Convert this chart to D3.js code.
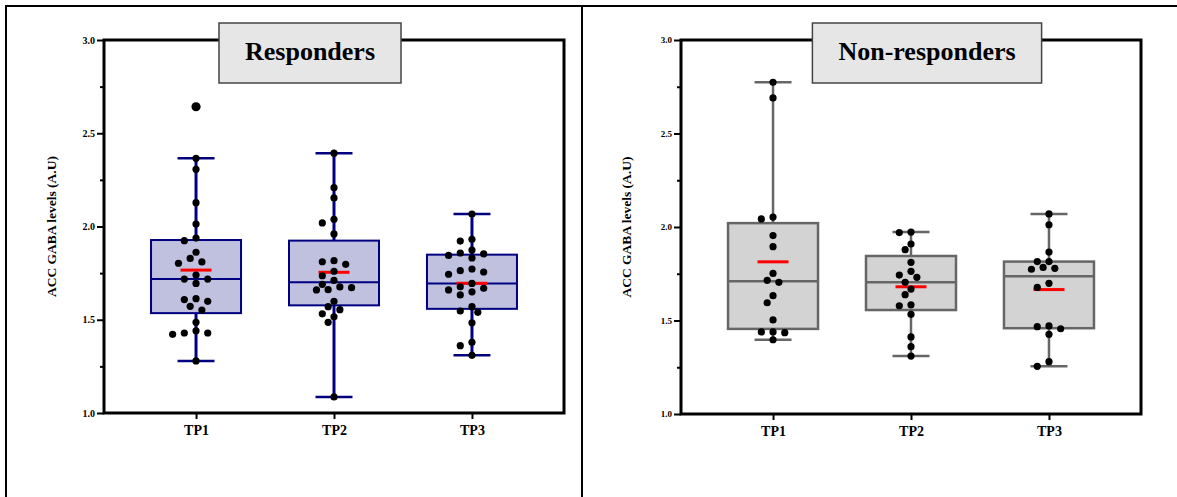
<!DOCTYPE html>
<html><head><meta charset="utf-8">
<script src="https://cdn.jsdelivr.net/npm/d3@7"></script>
<style>body{margin:0;background:#fff}svg{display:block}</style>
</head><body>
<svg id="chart" width="1177" height="497"></svg>
<script>
// ---------- data ----------
const categories = ["TP1", "TP2", "TP3"];
const panelTitles = ["Responders", "Non-responders"];
const yTicks = [1.0, 1.5, 2.0, 2.5, 3.0];
const yMinorTicks = [1.25, 1.75, 2.25, 2.75];
const yLabel = "ACC GABA levels (A.U)";

const respTP1 = [2.642, 2.366, 2.307, 2.128, 2.013, 1.938, 1.924, 1.862, 1.810, 1.803, 1.829, 1.740, 1.718,
                 1.718, 1.695, 1.613, 1.599, 1.608, 1.572, 1.552, 1.486, 1.441, 1.429, 1.429, 1.422, 1.279];
const respTP2 = [2.393, 2.208, 2.153, 2.039, 2.019, 1.960, 1.811, 1.797, 1.817, 1.760, 1.736, 1.711,
                 1.690, 1.660, 1.661, 1.672, 1.676, 1.599, 1.570, 1.554, 1.532, 1.516, 1.486, 1.086];
const respTP3 = [2.067, 1.931, 1.922, 1.858, 1.874, 1.853, 1.831, 1.845, 1.756, 1.744, 1.763, 1.772, 1.669,
                 1.677, 1.650, 1.695, 1.660, 1.633, 1.570, 1.540, 1.547, 1.484, 1.379, 1.361, 1.309];
const nonTP1 = [2.774, 2.690, 2.043, 2.053, 1.954, 1.895, 1.752, 1.715, 1.704, 1.633, 1.595, 1.503,
                1.439, 1.435, 1.439, 1.397];
const nonTP2 = [1.970, 1.973, 1.909, 1.879, 1.811, 1.763, 1.731, 1.743, 1.704, 1.668, 1.638, 1.579,
                1.584, 1.533, 1.412, 1.360, 1.310];
const nonTP3 = [2.070, 2.012, 1.866, 1.815, 1.815, 1.784, 1.774, 1.779, 1.699, 1.677, 1.471, 1.467,
                1.456, 1.426, 1.280, 1.255];

const responders = [respTP1, respTP2, respTP3];
const nonResponders = [nonTP1, nonTP2, nonTP3];

// ---------- layout & style ----------
const svg = d3.select("#chart");
const serif = "'Liberation Serif','Times New Roman',serif";

// outer frame
svg.append("path").attr("d", "M6,497V6H1177").attr("fill", "none").attr("stroke", "#000").attr("stroke-width", 2);
svg.append("line").attr("x1", 582).attr("x2", 582).attr("y1", 6).attr("y2", 497).attr("stroke", "#000").attr("stroke-width", 2);

const panels = [
  {groups: responders, title: panelTitles[0], x0: 104, x1: 564, yTop: 40, yBot: 413, labelX: 56,
   titleCx: 310, fill: "#bfc1df", stroke: "#000080", whiskerW: 3, boxW: 2, tickFont: 10},
  {groups: nonResponders, title: panelTitles[1], x0: 681, x1: 1141, yTop: 40, yBot: 414, labelX: 631,
   titleCx: 927, fill: "#d3d3d3", stroke: "#666666", whiskerW: 2.5, boxW: 2.5, tickFont: 9}
];

function quant(sorted, p) {
  const n = sorted.length, pos = (n + 1) * p, lo = Math.floor(pos), f = pos - lo;
  if (lo < 1) return sorted[0];
  if (lo >= n) return sorted[n - 1];
  return sorted[lo - 1] + f * (sorted[lo] - sorted[lo - 1]);
}

function beeswarm(values, y, step, minDist) {
  const order = values.map((v, i) => i).sort((a, b) => values[b] - values[a]);
  const placed = [];
  const offs = new Array(values.length);
  order.forEach(i => {
    const py = y(values[i]);
    for (let k = 0; k < 40; k++) {
      const m = Math.ceil(k / 2) * (k % 2 ? -1 : 1);
      const dx = m * step;
      if (placed.every(p => Math.hypot(p.x - dx, p.y - py) >= minDist)) {
        placed.push({x: dx, y: py}); offs[i] = dx; break;
      }
    }
  });
  return offs;
}

panels.forEach(P => {
  const g = svg.append("g");
  const y = d3.scaleLinear().domain([1, 3]).range([P.yBot, P.yTop]);
  const x = d3.scalePoint().domain(categories).range([P.x0, P.x1]).padding(0.667);
  const boxHalf = 45, capHalf = 18.5, meanHalf = 15.5;

  P.groups.forEach((vals, ci) => {
    const cx = x(categories[ci]);
    const s = vals.slice().sort(d3.ascending);
    const q1 = quant(s, 0.25), med = quant(s, 0.5), q3 = quant(s, 0.75);
    const iqr = q3 - q1;
    const lo = d3.min(s.filter(v => v >= q1 - 1.5 * iqr));
    const hi = d3.max(s.filter(v => v <= q3 + 1.5 * iqr));
    const mean = d3.mean(vals);

    g.append("line").attr("x1", cx).attr("x2", cx).attr("y1", y(hi)).attr("y2", y(q3))
      .attr("stroke", P.stroke).attr("stroke-width", P.whiskerW);
    g.append("line").attr("x1", cx).attr("x2", cx).attr("y1", y(q1)).attr("y2", y(lo))
      .attr("stroke", P.stroke).attr("stroke-width", P.whiskerW);
    [hi, lo].forEach(v => g.append("line").attr("x1", cx - capHalf).attr("x2", cx + capHalf)
      .attr("y1", y(v)).attr("y2", y(v)).attr("stroke", P.stroke).attr("stroke-width", 2.5));
    g.append("rect").attr("x", cx - boxHalf).attr("width", 2 * boxHalf)
      .attr("y", y(q3)).attr("height", y(q1) - y(q3))
      .attr("fill", P.fill).attr("stroke", P.stroke).attr("stroke-width", P.boxW);
    g.append("line").attr("x1", cx - boxHalf).attr("x2", cx + boxHalf).attr("y1", y(med)).attr("y2", y(med))
      .attr("stroke", P.stroke).attr("stroke-width", P.boxW);
    g.append("line").attr("x1", cx - meanHalf).attr("x2", cx + meanHalf).attr("y1", y(mean)).attr("y2", y(mean))
      .attr("stroke", "#ff0000").attr("stroke-width", 3);

    const offs = beeswarm(vals, y, 5.85, 7.8);
    g.selectAll(null).data(vals).enter().append("circle")
      .attr("cx", (d, i) => cx + offs[i]).attr("cy", d => y(d))
      .attr("r", d => (d > hi || d < lo) ? 4.6 : 3.6)
      .attr("fill", "#000");
  });

  g.append("rect").attr("x", P.x0).attr("y", P.yTop).attr("width", P.x1 - P.x0).attr("height", P.yBot - P.yTop)
    .attr("fill", "none").attr("stroke", "#000").attr("stroke-width", 3);

  const yAxis = d3.axisLeft(y).tickValues(yTicks).tickFormat(d3.format(".1f")).tickSize(7).tickPadding(2);
  const ya = g.append("g").attr("transform", `translate(${P.x0},0)`).call(yAxis);
  ya.select(".domain").remove();
  ya.selectAll(".tick line").attr("stroke-width", 2);
  ya.selectAll(".tick text").attr("font-family", serif).attr("font-weight", "bold")
    .attr("font-size", P.tickFont).attr("fill", "#000");
  const ym = g.append("g").attr("transform", `translate(${P.x0},0)`)
    .call(d3.axisLeft(y).tickValues(yMinorTicks).tickFormat("").tickSize(4));
  ym.select(".domain").remove();
  ym.selectAll(".tick line").attr("stroke-width", 2);

  const xAxis = d3.axisBottom(x).tickSize(6).tickPadding(6);
  const xa = g.append("g").attr("transform", `translate(0,${P.yBot})`).call(xAxis);
  xa.select(".domain").remove();
  xa.selectAll(".tick line").attr("stroke-width", 2);
  xa.selectAll(".tick text").attr("font-family", serif).attr("font-weight", "bold")
    .attr("font-size", 14).attr("fill", "#000");

  g.append("text").attr("transform", `translate(${P.labelX},${(P.yTop + P.yBot) / 2}) rotate(-90)`)
    .attr("text-anchor", "middle").attr("font-family", serif).attr("font-weight", "bold")
    .attr("font-size", 13.5).text(yLabel);

  const tg = g.append("g");
  const rect = tg.append("rect");
  const t = tg.append("text").attr("x", P.titleCx).attr("y", 60).attr("text-anchor", "middle")
    .attr("font-family", serif).attr("font-weight", "bold").attr("font-size", 26).attr("fill", "#000")
    .text(P.title);
  const bb = t.node().getBBox();
  rect.attr("x", bb.x - 26).attr("width", bb.width + 52).attr("y", 23).attr("height", 60)
    .attr("fill", "#e6e6e6").attr("stroke", "#444").attr("stroke-width", 1.5);
});
</script>
</body></html>
